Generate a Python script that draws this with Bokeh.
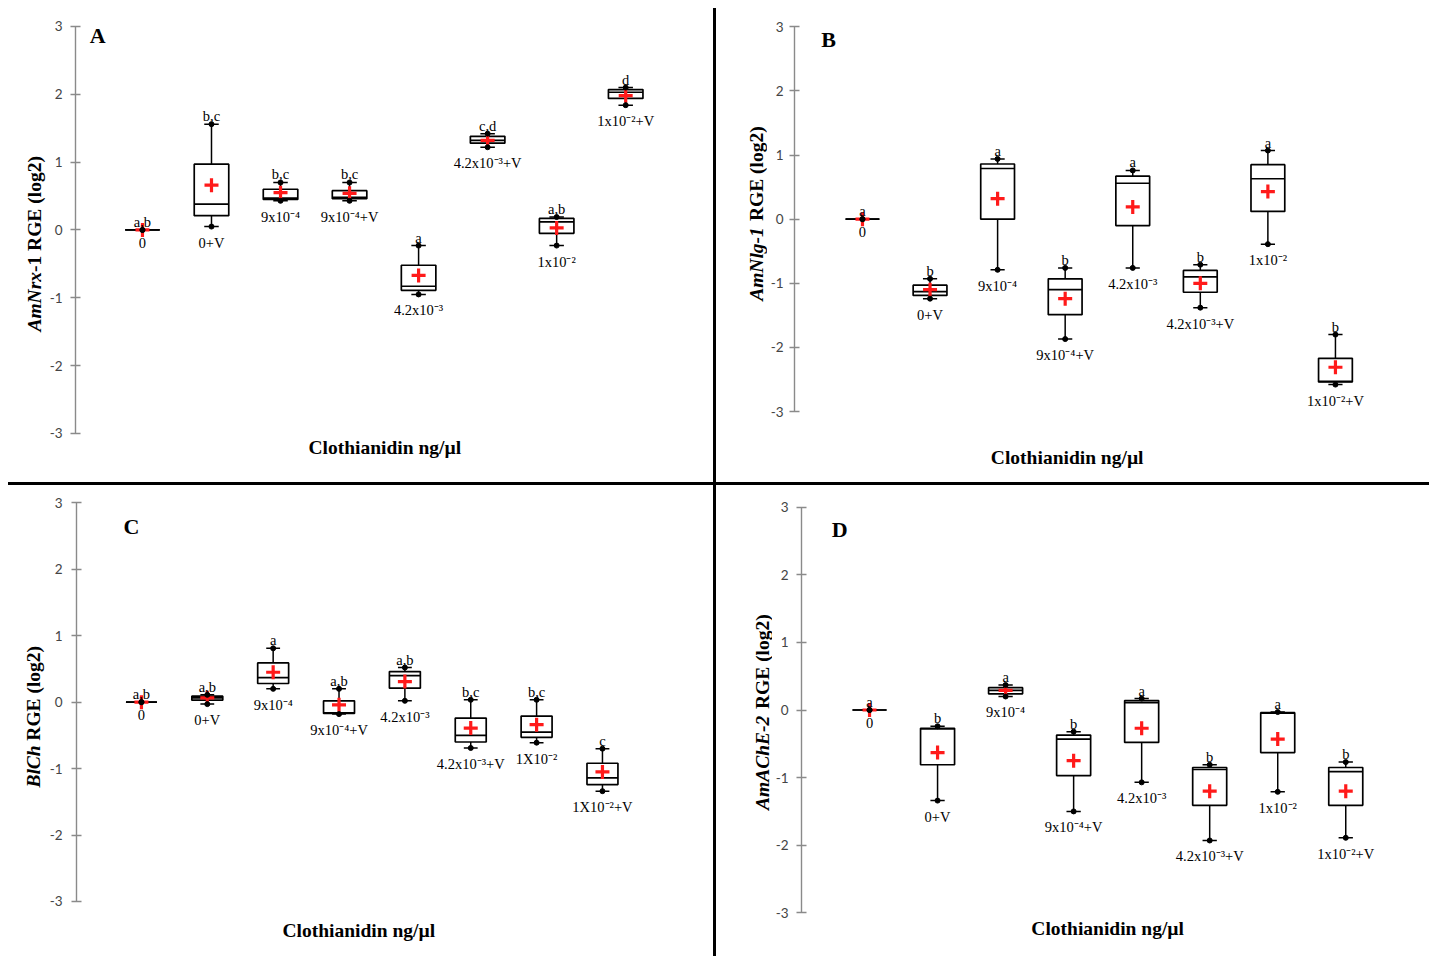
import math
from bokeh.plotting import figure
from bokeh.models import ColumnDataSource, Label, FixedTicker, Spacer, Range1d
from bokeh.layouts import row, column
from bokeh.embed import file_html
from bokeh.resources import INLINE
from bokeh.core.properties import value

# ---------------- data ----------------
cats_A = ["0", "0+V", "9x10⁻⁴", "9x10⁻⁴+V", "4.2x10⁻³", "4.2x10⁻³+V", "1x10⁻²", "1x10⁻²+V"]
low_A = [0, 0.05, 0.43, 0.43, -0.95, 1.22, -0.23, 1.84]
q1_A = [0, 0.21, 0.45, 0.46, -0.89, 1.28, -0.05, 1.94]
med_A = [0, 0.38, 0.47, 0.48, -0.83, 1.32, 0.12, 2.03]
q3_A = [0, 0.97, 0.60, 0.58, -0.52, 1.38, 0.17, 2.07]
high_A = [0, 1.56, 0.70, 0.70, -0.23, 1.42, 0.19, 2.10]
mean_A = [0, 0.66, 0.55, 0.54, -0.67, 1.32, 0.03, 1.98]
let_A = ["a,b", "b,c", "b,c", "b,c", "a", "c,d", "a,b", "d"]

cats_B = ["0", "0+V", "9x10⁻⁴", "9x10⁻⁴+V", "4.2x10⁻³", "4.2x10⁻³+V", "1x10⁻²", "1x10⁻²+V"]
low_B = [0, -1.24, -0.79, -1.87, -0.76, -1.38, -0.39, -2.58]
q1_B = [0, -1.19, 0.0, -1.49, -0.10, -1.14, 0.12, -2.54]
med_B = [0, -1.13, 0.79, -1.10, 0.56, -0.90, 0.63, -2.53]
q3_B = [0, -1.03, 0.86, -0.93, 0.67, -0.80, 0.85, -2.17]
high_B = [0, -0.93, 0.94, -0.76, 0.76, -0.71, 1.07, -1.80]
mean_B = [0, -1.10, 0.32, -1.24, 0.19, -1.00, 0.43, -2.31]
let_B = ["a", "b", "a", "b", "a", "b", "a", "b"]

cats_C = ["0", "0+V", "9x10⁻⁴", "9x10⁻⁴+V", "4.2x10⁻³", "4.2x10⁻³+V", "1X10⁻²", "1X10⁻²+V"]
low_C = [0, -0.03, 0.20, -0.18, 0.02, -0.69, -0.61, -1.34]
q1_C = [0, 0.03, 0.28, -0.17, 0.21, -0.60, -0.53, -1.24]
med_C = [0, 0.065, 0.37, -0.16, 0.40, -0.50, -0.45, -1.14]
q3_C = [0, 0.09, 0.59, 0.02, 0.46, -0.24, -0.21, -0.92]
high_C = [0, 0.11, 0.81, 0.20, 0.52, 0.035, 0.035, -0.70]
mean_C = [0, 0.065, 0.45, -0.04, 0.31, -0.39, -0.34, -1.05]
let_C = ["a,b", "a,b", "a", "a,b", "a,b", "b,c", "b,c", "c"]

cats_D = ["0", "0+V", "9x10⁻⁴", "9x10⁻⁴+V", "4.2x10⁻³", "4.2x10⁻³+V", "1x10⁻²", "1x10⁻²+V"]
low_D = [0, -1.34, 0.20, -1.50, -1.07, -1.93, -1.21, -1.89]
q1_D = [0, -0.81, 0.24, -0.97, -0.48, -1.41, -0.63, -1.41]
med_D = [0, -0.28, 0.29, -0.43, 0.11, -0.88, -0.045, -0.91]
q3_D = [0, -0.27, 0.33, -0.37, 0.14, -0.85, -0.04, -0.85]
high_D = [0, -0.24, 0.37, -0.32, 0.17, -0.81, -0.03, -0.77]
mean_D = [0, -0.63, 0.29, -0.75, -0.27, -1.20, -0.43, -1.20]
let_D = ["a", "b", "a", "b", "a", "b", "a", "b"]

y_ticks = [-3, -2, -1, 0, 1, 2, 3]
x_title = "Clothianidin ng/µl"

# ---------------- style ----------------
SERIF = "Liberation Serif"
SANS = "Lato"
RED = "#ff1a1a"


def panel(cats, low, q1, med, q3, high, mean, letters, gene_it, gene_rest, tag, g):
    n = len(cats)
    xs = list(range(1, n + 1))
    src = ColumnDataSource(dict(x=xs, cat=cats, low=low, q1=q1, med=med, q3=q3,
                                high=high, mean=mean, let=letters))
    yr = Range1d(*g["yr"])
    p = figure(width=g["w"], height=g["h"], x_range=g["xr"], y_range=yr,
               output_backend="svg", toolbar_location=None, x_axis_location=None,
               min_border=0, min_border_left=g["bl"], min_border_right=0,
               min_border_top=0, min_border_bottom=0)
    p.outline_line_color = None
    p.xgrid.visible = False
    p.ygrid.visible = False

    ax = p.yaxis[0]
    ax.ticker = FixedTicker(ticks=y_ticks)
    ax.major_label_overrides = {t: str(t) for t in y_ticks}
    ax.bounds = (min(y_ticks), max(y_ticks))
    ax.axis_line_color = "#8a8a8a"
    ax.axis_line_width = 1.4
    ax.major_tick_line_color = "#8a8a8a"
    ax.major_tick_line_width = 1.4
    ax.major_tick_in = 5
    ax.major_tick_out = 5
    ax.minor_tick_line_color = None
    ax.major_label_text_font = SANS
    ax.major_label_text_font_size = "13.5px"
    ax.major_label_text_color = "#444444"
    ax.major_label_standoff = g["st"]

    bw = g["bw"]
    p.segment(x0="x", y0="low", x1="x", y1="high", source=src,
              line_color="black", line_width=1.5)
    p.vbar(x="x", width=bw, bottom="q1", top="q3", source=src,
           fill_color="white", line_color="black", line_width=1.7)
    p.vbar(x="x", width=bw, bottom="med", top="med", source=src,
           fill_color=None, line_color="black", line_width=1.7)
    p.vbar(x="x", width=0.21, bottom="low", top="low", source=src,
           fill_color=None, line_color="black", line_width=1.5)
    p.vbar(x="x", width=0.21, bottom="high", top="high", source=src,
           fill_color=None, line_color="black", line_width=1.5)
    p.scatter(x="x", y="mean", marker="cross", size=14, line_width=3.2,
              line_color=RED, source=src)
    p.scatter(x="x", y="low", marker="circle", size=5, fill_color="black",
              line_color="black", source=src)
    p.scatter(x="x", y="high", marker="circle", size=5, fill_color="black",
              line_color="black", source=src)

    p.text(x="x", y="high", text="let", source=src, y_offset=-8,
           text_align="center", text_baseline="alphabetic",
           text_font=value(SERIF), text_font_size="14.5px", text_color="black")
    p.text(x="x", y="low", text="cat", source=src, y_offset=8,
           text_align="center", text_baseline="top",
           text_font=value(SERIF), text_font_size="14.5px", text_color="black")

    p.add_layout(Label(x=g["title"][0], y=g["title"][1], text=x_title,
                       text_align="center", text_baseline="middle",
                       text_font=SERIF, text_font_size="19.5px",
                       text_font_style="bold", text_color="black"))
    p.add_layout(Label(x=g["tag"][0], y=g["tag"][1], text=tag,
                       text_align="center", text_baseline="middle",
                       text_font=SERIF, text_font_size="22px",
                       text_font_style="bold", text_color="black"))

    # narrow strip holding the mixed-style y-axis title
    q = figure(width=g["nw"], height=g["h"], x_range=(0, g["nw"]), y_range=yr,
               output_backend="svg", toolbar_location=None,
               x_axis_location=None, y_axis_location=None, min_border=0)
    q.outline_line_color = None
    q.xgrid.visible = False
    q.ygrid.visible = False
    for r in list(q.center):
        r.visible = False
    q.text(x=[g["gx"]], y=[g["gy_it"]], text=[gene_it], angle=math.pi / 2,
           text_align="right", text_baseline="middle", text_font=value(SERIF),
           text_font_size="19.5px", text_font_style="bold italic", text_color="black")
    q.text(x=[g["gx"]], y=[g["gy_b"]], text=[gene_rest], angle=math.pi / 2,
           text_align="left", text_baseline="middle", text_font=value(SERIF),
           text_font_size="19.5px", text_font_style="bold", text_color="black")
    return q, p


TOP_H, BOT_H = 482, 471
gA = dict(nw=46, w=667, h=TOP_H, bl=28, st=8, xr=(0.03, 9.272), yr=(-3.723, 3.383), bw=0.5,
          title=(4.51, -3.21), tag=(0.35, 2.86), gx=34, gy_it=-0.62, gy_b=-0.62)
gB = dict(nw=51, w=662, h=TOP_H, bl=27, st=6, xr=(-0.006, 9.392), yr=(-4.107, 3.410), bw=0.5,
          title=(4.03, -3.72), tag=(0.50, 2.80), gx=39.5, gy_it=-0.125, gy_b=-0.03)
gC = dict(nw=46, w=667, h=BOT_H, bl=30, st=9, xr=(0.014, 9.686), yr=(-3.828, 3.260), bw=0.47,
          title=(4.30, -3.44), tag=(0.85, 2.65), gx=33, gy_it=-0.65, gy_b=-0.58)
gD = dict(nw=56, w=657, h=BOT_H, bl=28, st=8, xr=(0.0, 9.231), yr=(-3.646, 3.321), bw=0.5,
          title=(4.50, -3.23), tag=(0.56, 2.67), gx=45.5, gy_it=-0.084, gy_b=0.015)

nA, pA = panel(cats_A, low_A, q1_A, med_A, q3_A, high_A, mean_A, let_A, "AmNrx", "-1 RGE (log2)", "A", gA)
nB, pB = panel(cats_B, low_B, q1_B, med_B, q3_B, high_B, mean_B, let_B, "AmNlg-1", "RGE (log2)", "B", gB)
nC, pC = panel(cats_C, low_C, q1_C, med_C, q3_C, high_C, mean_C, let_C, "BlCh", "RGE (log2)", "C", gC)
nD, pD = panel(cats_D, low_D, q1_D, med_D, q3_D, high_D, mean_D, let_D, "AmAChE-2", "RGE (log2)", "D", gD)

BLACK = {"background-color": "black"}
vline_top = column(Spacer(width=3, height=8),
                   Spacer(width=3, height=TOP_H - 8, styles=BLACK))
vline_bot = Spacer(width=3, height=BOT_H, styles=BLACK)
hline = row(Spacer(width=8, height=3), Spacer(width=1421, height=3, styles=BLACK))

layout = column(row(nA, pA, vline_top, nB, pB),
                hline,
                row(nC, pC, vline_bot, nD, pD))

open("out.html", "w").write(file_html(layout, INLINE))
